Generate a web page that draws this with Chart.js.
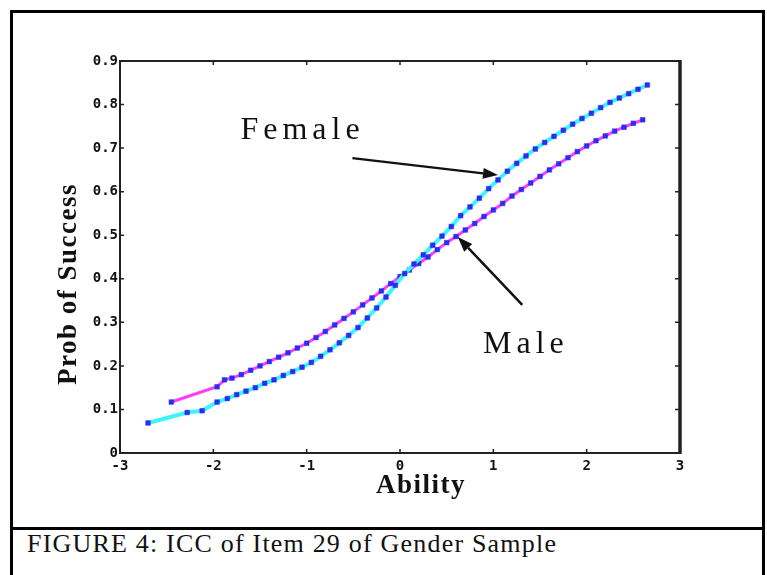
<!DOCTYPE html>
<html>
<head>
<meta charset="utf-8">
<title>ICC of Item 29 of Gender Sample</title>
<script src="https://cdn.jsdelivr.net/npm/chart.js@4.4.1/dist/chart.umd.min.js"></script>
<style>
    body { margin: 0; background: #fff; }
    #wrap { position: relative; width: 767px; height: 575px; overflow: hidden; }
    #frame {
        position: absolute; left: 10px; top: 10px; width: 755px; height: 580px;
        box-sizing: border-box; border: 3px solid #000; border-bottom: none;
    }
    #sep { position: absolute; left: 10px; top: 527px; width: 755px; height: 3px; background: #000; }
    #caption {
        position: absolute; left: 27px; top: 531px; line-height: 26px;
        font-family: "Liberation Serif", serif; font-size: 26px; letter-spacing: 1.2px; color: #111;
    }
    #chart { position: absolute; left: 0; top: 0; }
</style>
</head>
<body>
<div id="wrap">
    <div id="frame"></div>
    <div id="sep"></div>
    <div id="caption">FIGURE 4: ICC of Item 29 of Gender Sample</div>
    <canvas id="chart" width="767" height="575"></canvas>
</div>
<script>
// Female curve (cyan line, blue markers)
const femaleAbility = [-2.70, -2.28, -2.12, -1.96, -1.85, -1.75, -1.65, -1.55, -1.45, -1.35,
    -1.25, -1.15, -1.05, -0.95, -0.85, -0.75, -0.65, -0.55, -0.45, -0.35,
    -0.25, -0.15, -0.05, 0.05, 0.15, 0.25, 0.35, 0.45, 0.55, 0.65,
    0.75, 0.85, 0.95, 1.05, 1.15, 1.25, 1.35, 1.45, 1.55, 1.65,
    1.75, 1.85, 1.95, 2.05, 2.15, 2.25, 2.35, 2.45, 2.55, 2.65];
const femaleProb = [0.069, 0.093, 0.097, 0.117, 0.125, 0.134, 0.142, 0.150, 0.160, 0.168,
    0.178, 0.187, 0.197, 0.208, 0.222, 0.237, 0.253, 0.270, 0.288, 0.310,
    0.333, 0.358, 0.385, 0.412, 0.434, 0.455, 0.477, 0.498, 0.520, 0.545,
    0.565, 0.585, 0.607, 0.627, 0.647, 0.665, 0.682, 0.698, 0.713, 0.727,
    0.741, 0.755, 0.768, 0.780, 0.793, 0.805, 0.815, 0.825, 0.835, 0.845];

// Male curve (magenta line, blue markers)
const maleAbility = [-2.45, -1.96, -1.88, -1.80, -1.70, -1.60, -1.50, -1.40, -1.30, -1.20,
    -1.10, -1.00, -0.90, -0.80, -0.70, -0.60, -0.50, -0.40, -0.30, -0.20,
    -0.10, 0.00, 0.10, 0.20, 0.30, 0.40, 0.50, 0.60, 0.70, 0.80,
    0.90, 1.00, 1.10, 1.20, 1.30, 1.40, 1.50, 1.60, 1.70, 1.80,
    1.90, 2.00, 2.10, 2.20, 2.30, 2.40, 2.50, 2.60];
const maleProb = [0.117, 0.152, 0.168, 0.172, 0.180, 0.190, 0.200, 0.210, 0.220, 0.230,
    0.241, 0.252, 0.265, 0.279, 0.294, 0.309, 0.324, 0.340, 0.356, 0.372,
    0.389, 0.405, 0.420, 0.435, 0.450, 0.467, 0.483, 0.497, 0.512, 0.527,
    0.543, 0.558, 0.573, 0.590, 0.605, 0.620, 0.635, 0.650, 0.664, 0.678,
    0.692, 0.705, 0.717, 0.728, 0.739, 0.748, 0.757, 0.765];

// Annotations: label positions and arrow ends in data units
const labels = [
    { text: 'Female', x: -1.71, y: 0.72 },
    { text: 'Male', x: 0.89, y: 0.23 }
];
const arrows = [
    { from: [-0.51, 0.677], to: [1.05, 0.638] },
    { from: [1.31, 0.34], to: [0.62, 0.496] }
];

function toPoints(xs, ys) {
    return xs.map((x, i) => ({ x: x, y: ys[i] }));
}

function drawArrow(ctx, x1, y1, x2, y2) {
    const ang = Math.atan2(y2 - y1, x2 - x1);
    const len = 15, half = 5.5;
    const bx = x2 - len * Math.cos(ang), by = y2 - len * Math.sin(ang);
    ctx.beginPath();
    ctx.moveTo(x1, y1);
    ctx.lineTo(bx, by);
    ctx.stroke();
    ctx.beginPath();
    ctx.moveTo(x2, y2);
    ctx.lineTo(bx - half * Math.sin(ang), by + half * Math.cos(ang));
    ctx.lineTo(bx + half * Math.sin(ang), by - half * Math.cos(ang));
    ctx.closePath();
    ctx.fill();
}

// Box, inward ticks, annotations and axis titles
const decorations = {
    id: 'decorations',
    afterDraw(chart) {
        const ctx = chart.ctx;
        const area = chart.chartArea;
        const xs = chart.scales.x, ys = chart.scales.y;
        ctx.save();
        ctx.strokeStyle = '#222';
        ctx.lineWidth = 2;
        ctx.beginPath();
        ctx.moveTo(area.left, area.top);
        ctx.lineTo(area.right, area.top);
        ctx.stroke();
        ctx.lineWidth = 3.5;
        ctx.beginPath();
        ctx.moveTo(area.right, area.top - 1);
        ctx.lineTo(area.right, area.bottom + 1);
        ctx.stroke();

        // inward ticks
        ctx.lineWidth = 1.5;
        ctx.beginPath();
        xs.ticks.forEach(t => {
            const px = xs.getPixelForValue(t.value);
            ctx.moveTo(px, area.bottom); ctx.lineTo(px, area.bottom - 4);
            ctx.moveTo(px, area.top); ctx.lineTo(px, area.top + 4);
        });
        ys.ticks.forEach(t => {
            const py = ys.getPixelForValue(t.value);
            ctx.moveTo(area.left, py); ctx.lineTo(area.left + 4, py);
            ctx.moveTo(area.right, py); ctx.lineTo(area.right - 5, py);
        });
        ctx.stroke();

        // arrows
        ctx.strokeStyle = '#111';
        ctx.fillStyle = '#111';
        ctx.lineWidth = 2.5;
        arrows.forEach(a => {
            drawArrow(ctx,
                xs.getPixelForValue(a.from[0]), ys.getPixelForValue(a.from[1]),
                xs.getPixelForValue(a.to[0]), ys.getPixelForValue(a.to[1]));
        });

        // curve labels
        ctx.font = '32px "Liberation Serif", serif';
        ctx.letterSpacing = '5px';
        ctx.textAlign = 'left';
        ctx.textBaseline = 'alphabetic';
        labels.forEach(l => {
            ctx.fillText(l.text, xs.getPixelForValue(l.x), ys.getPixelForValue(l.y));
        });

        // axis titles
        ctx.font = 'bold 27px "Liberation Serif", serif';
        ctx.letterSpacing = '1.5px';
        ctx.textAlign = 'center';
        ctx.fillText('Ability', 421, 493);
        ctx.translate(76, 284);
        ctx.rotate(-Math.PI / 2);
        ctx.fillText('Prob of Success', 0, 0);
        ctx.restore();
    }
};

function createIccChart() {
    const ctx = document.getElementById('chart').getContext('2d');
    const tickFont = { family: 'DejaVu Sans Mono', size: 14, weight: 'bold' };
    new Chart(ctx, {
        type: 'scatter',
        data: {
            datasets: [{
                label: 'Female',
                data: toPoints(femaleAbility, femaleProb),
                showLine: true,
                borderColor: '#3cf6ff',
                borderWidth: 4,
                pointStyle: 'rect',
                pointRadius: 3.3,
                pointBackgroundColor: '#2a2ef0',
                pointBorderColor: '#2a2ef0',
                pointBorderWidth: 0.5
            }, {
                label: 'Male',
                data: toPoints(maleAbility, maleProb),
                showLine: true,
                borderColor: '#ff3cff',
                borderWidth: 3,
                pointStyle: 'rect',
                pointRadius: 3.3,
                pointBackgroundColor: '#2a2ef0',
                pointBorderColor: '#2a2ef0',
                pointBorderWidth: 0.5
            }]
        },
        options: {
            responsive: false,
            animation: false,
            layout: { padding: { top: 61, right: 87, left: 0, bottom: 0 } },
            plugins: {
                legend: { display: false },
                tooltip: { enabled: false }
            },
            scales: {
                x: {
                    type: 'linear',
                    min: -3,
                    max: 3,
                    afterFit: scale => { scale.height = 122; },
                    grid: { display: false, drawTicks: false },
                    border: { display: true, color: '#222', width: 2 },
                    ticks: { stepSize: 1, padding: 5, color: '#111', font: tickFont }
                },
                y: {
                    min: 0,
                    max: 0.9,
                    afterFit: scale => { scale.width = 120; },
                    grid: { display: false, drawTicks: false },
                    border: { display: true, color: '#222', width: 2 },
                    ticks: { stepSize: 0.1, padding: 2, color: '#111', font: tickFont }
                }
            }
        },
        plugins: [decorations]
    });
}

document.addEventListener('DOMContentLoaded', createIccChart);
</script>
</body>
</html>
